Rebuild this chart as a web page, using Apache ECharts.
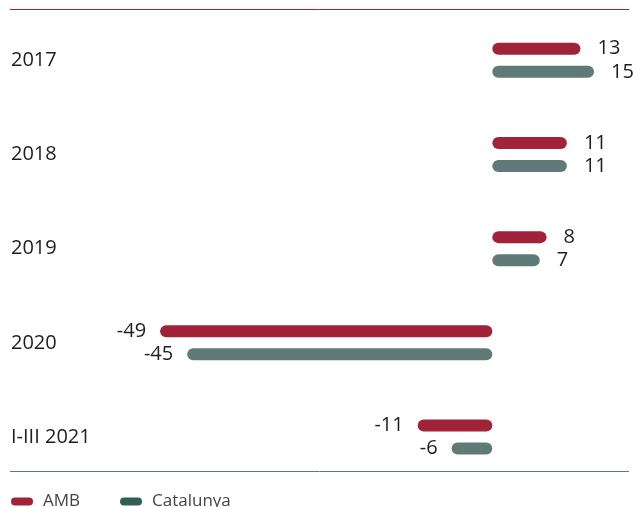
<!DOCTYPE html>
<html>
<head>
<meta charset="utf-8">
<script src="https://cdn.jsdelivr.net/npm/echarts@6/dist/echarts.min.js"></script>
<style>
  html, body { margin: 0; padding: 0; background: #fff; }
  #chart { width: 633px; height: 507px; }
</style>
</head>
<body>
<div id="chart"></div>
<script>
// Year-on-year change (%) by period
const categories = ['2017', '2018', '2019', '2020', 'I-III 2021'];
const ambValues = [13, 11, 8, -49, -11];
const catValues = [15, 11, 7, -45, -6];
const seriesNames = ['AMB', 'Catalunya'];

const RED = '#a1233a';
const GREEN = '#607b77';
const GREEN_DARK = '#2f5f56';
const FONT = '"Open Sans", sans-serif';

// label on the outer end of each bar: right for gains, left for losses
function withLabels(values) {
  return values.map(v => ({
    value: v,
    label: { position: v < 0 ? 'left' : 'right', distance: v < 0 ? 14 : 17 }
  }));
}

const pill = 'path://M4,0 H18 A4,4 0 0 1 18,8 H4 A4,4 0 0 1 4,0 Z';

const chart = echarts.init(document.getElementById('chart'), null, { renderer: 'canvas' });

const barLabel = {
  show: true,
  fontFamily: FONT,
  fontSize: 20,
  color: '#1e1e1e'
};

chart.setOption({
  animation: false,
  textStyle: { fontFamily: FONT },
  grid: { left: 153.3, right: 5.1, top: 13.2, bottom: 22.9, containLabel: false },
  xAxis: {
    type: 'value',
    min: -50,
    max: 20,
    show: false
  },
  yAxis: {
    type: 'category',
    data: categories,
    inverse: true,
    axisLine: { show: false },
    axisTick: { show: false },
    splitLine: { show: false },
    axisLabel: {
      align: 'left',
      margin: 142.3,
      fontFamily: FONT,
      fontSize: 20,
      color: '#1e1e1e'
    }
  },
  legend: {
    left: 6,
    bottom: -8,
    itemWidth: 22,
    itemHeight: 8,
    itemGap: 40,
    icon: pill,
    textStyle: { fontFamily: FONT, fontSize: 17, color: '#444', padding: [0, 0, 0, 5] },
    data: [
      { name: seriesNames[0], itemStyle: { color: RED } },
      { name: seriesNames[1], itemStyle: { color: GREEN_DARK } }
    ]
  },
  series: [
    {
      name: seriesNames[0],
      type: 'bar',
      data: withLabels(ambValues),
      barWidth: 12,
      barGap: '92%',
      itemStyle: { color: RED, borderRadius: 6 },
      label: barLabel
    },
    {
      name: seriesNames[1],
      type: 'bar',
      data: withLabels(catValues),
      barWidth: 12,
      barGap: '92%',
      itemStyle: { color: GREEN, borderRadius: 6 },
      label: barLabel
    }
  ],
  graphic: [
    {
      type: 'line',
      shape: { x1: 10, y1: 9.5, x2: 629, y2: 9.5 },
      style: { stroke: RED, lineWidth: 1 }
    },
    {
      type: 'line',
      shape: { x1: 10, y1: 471.5, x2: 629, y2: 471.5 },
      style: { stroke: GREEN, lineWidth: 1 }
    }
  ]
});
</script>
</body>
</html>
